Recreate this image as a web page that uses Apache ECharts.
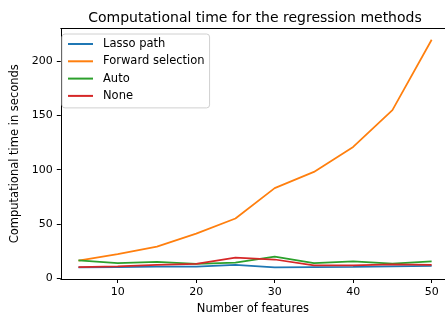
<!DOCTYPE html>
<html>
<head>
<meta charset="utf-8">
<script src="https://cdn.jsdelivr.net/npm/echarts@6/dist/echarts.min.js"></script>
<style>
html,body{margin:0;padding:0;background:#fff;}
#chart{width:445px;height:320px;}
</style>
</head>
<body>
<div id="chart"></div>
<script>
const features = [5, 10, 15, 20, 25, 30, 35, 40, 45, 50];
const lassoPath = [9.8, 10, 10.5, 10.5, 12.2, 9.8, 10, 10.2, 10.8, 11.3];
const forwardSelection = [16, 22, 29, 41, 55, 83, 98, 121, 155, 220];
const auto = [16.2, 13.7, 15, 13.1, 14.3, 19.8, 13.7, 15.3, 13.4, 15.3];
const none = [10, 10.7, 12.2, 13.1, 18.9, 17.1, 11.6, 11.6, 12.5, 12.2];
const xTicks = [10, 20, 30, 40, 50];
const yTicks = [0, 50, 100, 150, 200];
const seriesNames = ['Lasso path', 'Forward selection', 'Auto', 'None'];
const seriesColors = ['#1f77b4', '#ff7f0e', '#2ca02c', '#d62728'];

const FONT = 'DejaVu Sans';
const seriesData = [lassoPath, forwardSelection, auto, none];

const chart = echarts.init(document.getElementById('chart'), null, {renderer: 'canvas'});
chart.setOption({
  backgroundColor: '#ffffff',
  animation: false,
  title: {
    text: 'Computational time for the regression methods',
    left: 250,
    textAlign: 'center',
    top: 6,
    textStyle: {fontFamily: FONT, fontSize: 14, fontWeight: 'normal', color: '#000'}
  },
  legend: {
    orient: 'vertical',
    left: 62,
    top: 34,
    padding: [3, 5, 5, 6],
    itemGap: 3.3,
    itemWidth: 25,
    itemHeight: 2,
    icon: 'rect',
    backgroundColor: 'rgba(255,255,255,0.8)',
    borderColor: '#d0d0d0',
    borderWidth: 1,
    borderRadius: 3,
    data: seriesNames,
    textStyle: {fontFamily: FONT, fontSize: 11.5, color: '#000', lineHeight: 14, padding: [0, 0, 0, 5]}
  },
  grid: {left: 60.8, right: 0, top: 28.4, bottom: 39, containLabel: false},
  xAxis: [{
    type: 'value',
    min: 2.75,
    max: 51.7,
    name: 'Number of features',
    nameLocation: 'middle',
    nameGap: 24,
    nameTextStyle: {fontFamily: FONT, fontSize: 11.5, color: '#000', verticalAlign: 'top'},
    axisLine: {show: true, onZero: false, lineStyle: {color: '#000', width: 1}},
    axisTick: {show: true, length: 4, lineStyle: {color: '#000'}, customValues: xTicks},
    axisLabel: {fontFamily: FONT, fontSize: 11, color: '#000', margin: 8, customValues: xTicks},
    splitLine: {show: false}
  }, {
    type: 'value',
    position: 'top',
    min: 2.75,
    max: 51.7,
    axisLine: {show: true, onZero: false, lineStyle: {color: '#000', width: 1}},
    axisTick: {show: false},
    axisLabel: {show: false},
    splitLine: {show: false}
  }],
  yAxis: {
    type: 'value',
    min: -0.9,
    max: 230.5,
    name: 'Computational time in seconds',
    nameLocation: 'middle',
    nameGap: 31,
    nameTextStyle: {fontFamily: FONT, fontSize: 11.5, color: '#000'},
    axisLine: {show: true, onZero: false, lineStyle: {color: '#000', width: 1}},
    axisTick: {show: true, length: 4, lineStyle: {color: '#000'}, customValues: yTicks},
    axisLabel: {fontFamily: FONT, fontSize: 11, color: '#000', margin: 8, customValues: yTicks},
    splitLine: {show: false}
  },
  series: seriesNames.map((name, i) => ({
    name: name,
    type: 'line',
    xAxisIndex: 0,
    data: features.map((f, j) => [f, seriesData[i][j]]),
    symbol: 'none',
    color: seriesColors[i],
    lineStyle: {width: 1.75, color: seriesColors[i]},
    z: 2 + i
  }))
});
</script>
</body>
</html>
